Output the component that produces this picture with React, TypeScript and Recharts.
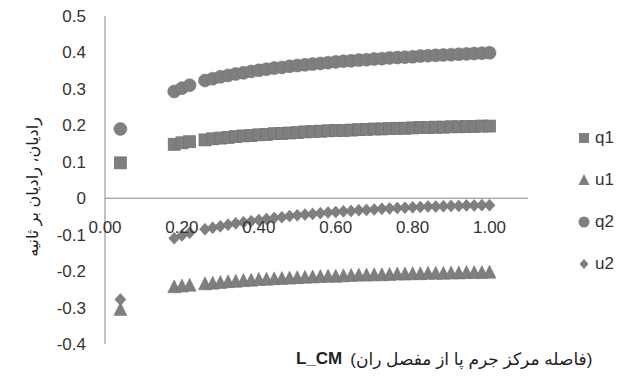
import React from "react"
import { ScatterChart, Scatter, XAxis, YAxis, ReferenceLine } from "recharts"

// x positions (L_CM)
const xValues = [
  0.04, 0.18, 0.2, 0.22, 0.26, 0.28, 0.3, 0.32, 0.34, 0.36, 0.38, 0.4, 0.42, 0.44,
  0.46, 0.48, 0.5, 0.52, 0.54, 0.56, 0.58, 0.6, 0.62, 0.64, 0.66, 0.68, 0.7, 0.72,
  0.74, 0.76, 0.78, 0.8, 0.82, 0.84, 0.86, 0.88, 0.9, 0.92, 0.94, 0.96, 0.98, 1.0,
]

const q1 = [
  0.097, 0.148, 0.152, 0.155, 0.16, 0.163, 0.165, 0.167, 0.169, 0.171, 0.172, 0.174,
  0.175, 0.177, 0.178, 0.179, 0.18, 0.182, 0.183, 0.184, 0.185, 0.186, 0.186, 0.187,
  0.188, 0.189, 0.19, 0.19, 0.191, 0.192, 0.192, 0.193, 0.194, 0.194, 0.195, 0.195,
  0.196, 0.196, 0.197, 0.197, 0.198, 0.198,
]

const u1 = [
  -0.305, -0.243, -0.241, -0.239, -0.235, -0.233, -0.231, -0.229, -0.228, -0.226,
  -0.225, -0.223, -0.222, -0.221, -0.22, -0.219, -0.218, -0.217, -0.216, -0.215,
  -0.214, -0.214, -0.213, -0.212, -0.211, -0.211, -0.21, -0.21, -0.209, -0.208,
  -0.208, -0.207, -0.207, -0.206, -0.206, -0.206, -0.205, -0.205, -0.204, -0.204,
  -0.204, -0.203,
]

const q2 = [
  0.19, 0.293, 0.302, 0.31, 0.323, 0.328, 0.333, 0.337, 0.341, 0.344, 0.348, 0.351,
  0.354, 0.357, 0.359, 0.362, 0.364, 0.366, 0.368, 0.37, 0.372, 0.374, 0.376, 0.377,
  0.379, 0.38, 0.382, 0.383, 0.385, 0.386, 0.387, 0.388, 0.39, 0.391, 0.392, 0.393,
  0.394, 0.395, 0.396, 0.397, 0.398, 0.399,
]

const u2 = [
  -0.278, -0.11, -0.102, -0.095, -0.085, -0.081, -0.077, -0.073, -0.069, -0.066,
  -0.063, -0.06, -0.057, -0.054, -0.052, -0.049, -0.047, -0.045, -0.043, -0.041,
  -0.039, -0.038, -0.036, -0.035, -0.033, -0.032, -0.031, -0.029, -0.028, -0.027,
  -0.026, -0.025, -0.024, -0.023, -0.023, -0.022, -0.021, -0.021, -0.02, -0.02,
  -0.019, -0.019,
]

const xTicks = [0, 0.2, 0.4, 0.6, 0.8, 1.0]
const yTicks = [-0.4, -0.3, -0.2, -0.1, 0, 0.1, 0.2, 0.3, 0.4, 0.5]

const seriesNames = ["q1", "u1", "q2", "u2"]

const FILL = "#7f7f7f"
const EDGE = "#6f6f6f"
const AXIS = "#868686"
const FONT = "'Liberation Sans', 'DejaVu Sans', sans-serif"

const W = 629
const H = 378
const TOP = 16
const BOTTOM = 34
const Y_MIN = -0.4
const Y_MAX = 0.5
const zeroY = TOP + ((H - TOP - BOTTOM) * Y_MAX) / (Y_MAX - Y_MIN)

const toPoints = (ys: number[]) => xValues.map((x, i) => ({ x, y: ys[i] }))

const Square = (p: any) => (
  <rect x={p.cx - 6} y={p.cy - 6} width={12} height={12} fill={FILL} stroke={EDGE} strokeWidth={0.7} />
)
const Circle = (p: any) => <circle cx={p.cx} cy={p.cy} r={6.5} fill={FILL} stroke={EDGE} strokeWidth={0.5} />
const Triangle = (p: any) => (
  <polygon
    points={`${p.cx},${p.cy - 7} ${p.cx + 6.5},${p.cy + 6} ${p.cx - 6.5},${p.cy + 6}`}
    fill={FILL}
    stroke={EDGE}
    strokeWidth={0.5}
  />
)
const Diamond = (p: any) => (
  <polygon
    points={`${p.cx},${p.cy - 6} ${p.cx + 5.5},${p.cy} ${p.cx},${p.cy + 6} ${p.cx - 5.5},${p.cy}`}
    fill={FILL}
    stroke={EDGE}
    strokeWidth={0.5}
  />
)

// x tick labels sit just under the zero line, like Excel's crossing axis
const XTick = (props: any) => (
  <text x={props.x} y={zeroY + 35} textAnchor="middle" fontSize={17} fontFamily={FONT} fill="#333">
    {Number(props.payload.value).toFixed(2)}
  </text>
)

const legendIcons: Record<string, React.ReactNode> = {
  q1: <rect x={2} y={2} width={10} height={10} fill={FILL} />,
  u1: <polygon points="7,1 12.5,12 1.5,12" fill={FILL} />,
  q2: <circle cx={7} cy={7} r={5.5} fill={FILL} />,
  u2: <polygon points="7,2 11.5,7 7,12 2.5,7" fill={FILL} />,
}

const App = () => {
  return (
    <div style={{ position: "relative", width: W, height: H, margin: -8, background: "#fff" }}>
      <ScatterChart width={W} height={H} margin={{ top: TOP, right: 101, bottom: 0, left: 0 }}>
        <XAxis
          type="number"
          dataKey="x"
          domain={[0, 1.1]}
          ticks={xTicks}
          axisLine={false}
          tickLine={false}
          height={BOTTOM}
          tick={XTick}
          interval={0}
        />
        <YAxis
          type="number"
          dataKey="y"
          domain={[Y_MIN, Y_MAX]}
          ticks={yTicks}
          width={105}
          tickLine={false}
          tickSize={0}
          tickMargin={19}
          axisLine={{ stroke: AXIS }}
          interval={0}
          tick={{ fontSize: 17, fontFamily: FONT, fill: "#333" }}
          tickFormatter={(v: number) => (v === 0 ? "0" : v.toFixed(1))}
        />
        <ReferenceLine y={0} stroke={AXIS} strokeWidth={1} />
        <Scatter name="q1" data={toPoints(q1)} shape={Square} isAnimationActive={false} />
        <Scatter name="u1" data={toPoints(u1)} shape={Triangle} isAnimationActive={false} />
        <Scatter name="q2" data={toPoints(q2)} shape={Circle} isAnimationActive={false} />
        <Scatter name="u2" data={toPoints(u2)} shape={Diamond} isAnimationActive={false} />
      </ScatterChart>

      {/* legend */}
      <div style={{ position: "absolute", left: 577, top: 117, fontFamily: FONT, fontSize: 17, color: "#333" }}>
        {seriesNames.map((name) => (
          <div key={name} style={{ display: "flex", alignItems: "center", height: 42 }}>
            <svg width={14} height={14} style={{ marginRight: 4 }}>
              {legendIcons[name]}
            </svg>
            <span>{name}</span>
          </div>
        ))}
      </div>

      {/* y axis title */}
      <div
        style={{
          position: "absolute",
          left: 32,
          top: 187,
          transform: "translate(-50%, -50%) rotate(-90deg)",
          whiteSpace: "nowrap",
          fontFamily: FONT,
          fontSize: 16,
          color: "#222",
          direction: "rtl",
        }}
      >
        رادیان، رادیان بر ثانیه
      </div>

      {/* x axis title */}
      <div
        style={{
          position: "absolute",
          left: 296,
          top: 349,
          whiteSpace: "nowrap",
          fontFamily: FONT,
          fontSize: 17,
          color: "#222",
          display: "flex",
          gap: 8,
        }}
      >
        <span style={{ fontWeight: "bold" }}>L_CM</span>
        <span style={{ direction: "rtl" }}>(فاصله مرکز جرم پا از مفصل ران)</span>
      </div>
    </div>
  )
}

export default App
